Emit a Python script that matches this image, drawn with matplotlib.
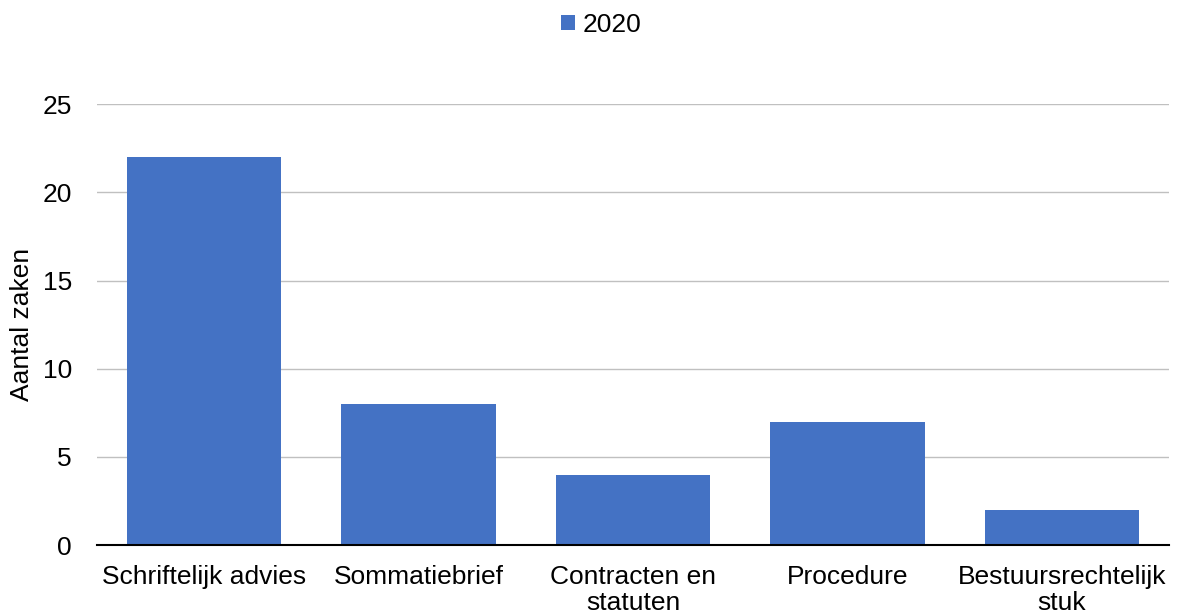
import matplotlib.pyplot as plt

plt.rcParams['font.family'] = ['Liberation Sans', 'DejaVu Sans']

categories = ['Schriftelijk advies', 'Sommatiebrief', 'Contracten en\nstatuten',
              'Procedure', 'Bestuursrechtelijk\nstuk']
values_2020 = [22, 8, 4, 7, 2]

fig = plt.figure(figsize=(11.79, 6.16), dpi=100)
ax = fig.add_axes([0.0823, 0.115, 0.9092, 0.716])

x = range(len(categories))
ax.bar(x, values_2020, width=0.72, color='#4472C4', label='2020', zorder=2)

ax.set_xlim(-0.5, len(categories) - 0.5)
ax.set_ylim(0, 25)
ax.set_yticks([0, 5, 10, 15, 20, 25])
ax.set_xticks(list(x))
ax.set_xticklabels(categories, fontsize=19, va='top', linespacing=1.15)
ax.tick_params(axis='y', labelsize=19, length=0, pad=18)
ax.tick_params(axis='x', length=0, pad=14)
ax.set_ylabel('Aantal zaken', fontsize=19, labelpad=6)

ax.grid(axis='y', color='#C0C0C0', lw=1, zorder=0)
for s in ['top', 'right', 'left']:
    ax.spines[s].set_visible(False)
ax.spines['bottom'].set_color('black')
ax.spines['bottom'].set_linewidth(1.5)
ax.spines['bottom'].set_zorder(3)

fig.legend(loc='upper center', bbox_to_anchor=(0.51, 1.018), frameon=False, fontsize=19,
           handlelength=0.53, handleheight=0.53, handletextpad=0.3)

fig.savefig('out.png', dpi=100)
